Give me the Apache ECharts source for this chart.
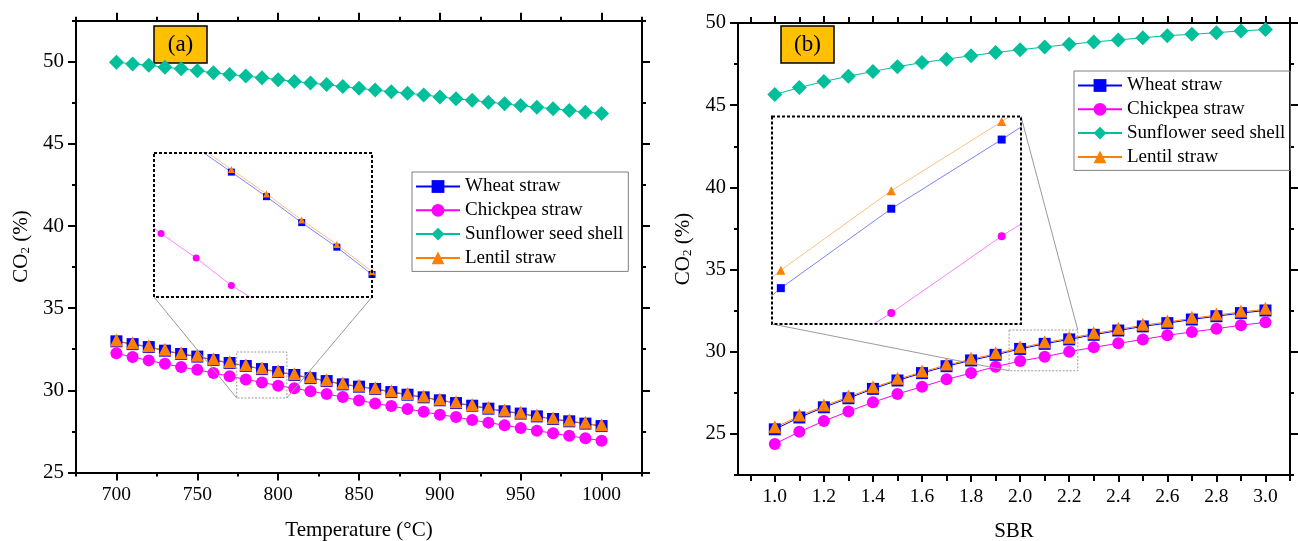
<!DOCTYPE html>
<html><head><meta charset="utf-8">
<script src="https://cdn.jsdelivr.net/npm/echarts@6/dist/echarts.min.js"></script>
<style>html,body{margin:0;padding:0;background:#fff}#c{width:1298px;height:541px}</style>
</head><body><div id="c"></div>
<script>
// ---------------- data ----------------
const seriesNames = ['Wheat straw', 'Chickpea straw', 'Sunflower seed shell', 'Lentil straw'];

// panel (a): CO2 vs temperature
const temperature = [700,710,720,730,740,750,760,770,780,790,800,810,820,830,840,850,860,870,880,890,900,910,920,930,940,950,960,970,980,990,1000];
const tWheat     = [32.98,32.81,32.63,32.41,32.21,32.05,31.84,31.66,31.48,31.29,31.11,30.93,30.74,30.56,30.36,30.22,30.08,29.89,29.73,29.57,29.39,29.22,29.06,28.88,28.72,28.58,28.41,28.25,28.11,27.97,27.82];
const tChickpea  = [32.25,32.02,31.82,31.61,31.41,31.25,31.05,30.85,30.66,30.48,30.28,30.12,29.94,29.77,29.59,29.38,29.20,29.04,28.86,28.69,28.51,28.37,28.19,28.03,27.87,27.70,27.54,27.38,27.23,27.08,26.93];
const tSunflower = [49.97,49.87,49.79,49.66,49.58,49.45,49.33,49.22,49.13,49.03,48.91,48.80,48.70,48.61,48.49,48.38,48.28,48.17,48.09,47.98,47.86,47.75,47.65,47.54,47.44,47.33,47.23,47.14,47.04,46.93,46.85];
const tLentil    = [33.00,32.83,32.65,32.43,32.23,32.07,31.86,31.68,31.50,31.31,31.13,30.95,30.76,30.58,30.38,30.24,30.10,29.91,29.75,29.59,29.41,29.24,29.08,28.90,28.74,28.60,28.43,28.27,28.13,27.99,27.84];

// panel (b): CO2 vs SBR
const sbr        = [1.0,1.1,1.2,1.3,1.4,1.5,1.6,1.7,1.8,1.9,2.0,2.1,2.2,2.3,2.4,2.5,2.6,2.7,2.8,2.9,3.0];
const sWheat     = [25.28,26.00,26.62,27.17,27.74,28.25,28.70,29.12,29.47,29.81,30.17,30.48,30.75,31.03,31.29,31.54,31.74,31.96,32.16,32.35,32.51];
const sChickpea  = [24.39,25.13,25.78,26.37,26.92,27.43,27.87,28.32,28.70,29.09,29.43,29.70,30.00,30.27,30.51,30.75,31.00,31.20,31.40,31.61,31.79];
const sSunflower = [45.65,46.07,46.44,46.76,47.05,47.34,47.59,47.80,48.01,48.20,48.37,48.54,48.70,48.85,48.97,49.10,49.23,49.31,49.41,49.52,49.60];
const sLentil    = [25.38,26.09,26.70,27.25,27.81,28.32,28.77,29.19,29.54,29.88,30.24,30.55,30.82,31.10,31.36,31.61,31.81,32.03,32.23,32.42,32.58];

// ticks
const tempTickLabels  = [700,750,800,850,900,950,1000];
const tempMinorTicks  = [675,725,775,825,875,925,975,1025];
const co2TickLabels   = [25,30,35,40,45,50];
const co2MinorTicksA  = [27.5,32.5,37.5,42.5,47.5,52.5];
const co2MinorTicksB  = [22.5,27.5,32.5,37.5,42.5,47.5];
const sbrTickLabels   = [1.0,1.2,1.4,1.6,1.8,2.0,2.2,2.4,2.6,2.8,3.0];
const sbrMinorTicks   = [0.9,1.1,1.3,1.5,1.7,1.9,2.1,2.3,2.5,2.7,2.9,3.1];

// zoomed regions (data coordinates) shown in the insets
const zoomA = {x: [774.4, 805.4], y: [29.53, 32.33]};
const zoomB = {x: [1.955, 2.235], y: [28.84, 31.32]};

// ---------------- layout / style ----------------
const FONT = 'Liberation Serif';
const COLORS = ['#0000FF', '#FF00FF', '#00BF9B', '#FF8000'];
const SYMBOLS = ['rect', 'circle', 'diamond', 'triangle'];
const SIZES = [12, 12, 15, 13];
const gridA = {left: 76, top: 20.7, width: 566, height: 451.7};
const gridB = {left: 738, top: 23, width: 552, height: 452};
const insetA = {left: 154, top: 153, width: 218, height: 144};
const insetB = {left: 772, top: 116.5, width: 249, height: 207.5};

const pairs = (xs, ys) => xs.map((x, i) => [x, ys[i]]);

function axis(gridIndex, position, min, max, tickValues, tickLen, showLine, label) {
  const a = {
    type: 'value', gridIndex, position, min, max,
    axisLine: {show: showLine, onZero: false, lineStyle: {color: '#000', width: 2}},
    axisTick: {show: true, customValues: tickValues, length: tickLen, lineStyle: {color: '#000', width: 2}},
    axisLabel: {show: false},
    splitLine: {show: false}
  };
  if (label) {
    a.axisLabel = Object.assign({show: true, color: '#000', fontFamily: FONT}, label);
  }
  return a;
}
function hiddenAxis(gridIndex, min, max) {
  return {type: 'value', gridIndex, min, max, show: false, splitLine: {show: false}};
}

const xAxes = [
  // panel a
  Object.assign(axis(0, 'bottom', 675, 1025, tempTickLabels, 8, true,
    {customValues: tempTickLabels, fontSize: 19.5, margin: 12, formatter: v => String(v)}),
    {name: 'Temperature (°C)', nameLocation: 'middle', nameGap: 48,
     nameTextStyle: {fontSize: 21, fontFamily: FONT, color: '#000'}}),
  axis(0, 'bottom', 675, 1025, tempMinorTicks, 4, false),
  axis(0, 'top', 675, 1025, tempTickLabels, 8, true),
  axis(0, 'top', 675, 1025, tempMinorTicks, 4, false),
  // panel b
  Object.assign(axis(1, 'bottom', 0.85, 3.1, sbrTickLabels, 7, true,
    {customValues: sbrTickLabels, fontSize: 19.5, margin: 12, formatter: v => Number(v).toFixed(1)}),
    {name: 'SBR', nameLocation: 'middle', nameGap: 46,
     nameTextStyle: {fontSize: 21, fontFamily: FONT, color: '#000'}}),
  axis(1, 'bottom', 0.85, 3.1, sbrMinorTicks, 6, false),
  axis(1, 'top', 0.85, 3.1, sbrTickLabels, 7, true),
  axis(1, 'top', 0.85, 3.1, sbrMinorTicks, 6, false),
  // insets
  hiddenAxis(2, 778, 840),
  hiddenAxis(3, 1.992, 2.2175)
];
const yName = {
  name: 'CO{s|2} (%)', nameLocation: 'middle', nameGap: 44,
  nameTextStyle: {fontSize: 21, fontFamily: FONT, color: '#000',
    rich: {s: {fontSize: 13, fontFamily: FONT, color: '#000', verticalAlign: 'bottom', padding: [9, 0, 0, 0]}}}
};
const yAxes = [
  Object.assign(axis(0, 'left', 25, 52.5, co2TickLabels, 8, true,
    {customValues: co2TickLabels, fontSize: 21, margin: 12}), yName),
  axis(0, 'left', 25, 52.5, co2MinorTicksA, 4, false),
  axis(0, 'right', 25, 52.5, co2TickLabels, 8, true),
  axis(0, 'right', 25, 52.5, co2MinorTicksA, 4, false),
  Object.assign(axis(1, 'left', 22.5, 50, co2TickLabels, 8, true,
    {customValues: co2TickLabels, fontSize: 20.5, margin: 12}), yName),
  axis(1, 'left', 22.5, 50, co2MinorTicksB, 4, false),
  axis(1, 'right', 22.5, 50, co2TickLabels, 8, true),
  axis(1, 'right', 22.5, 50, co2MinorTicksB, 4, false),
  hiddenAxis(2, 30.195, 31.25),
  hiddenAxis(3, 30.03, 30.84),
  hiddenAxis(3, 29.657, 30.467)
];

function mainSeries(k, xs, ys, xi, yi) {
  return {
    type: 'line', name: seriesNames[k], data: pairs(xs, ys),
    xAxisIndex: xi, yAxisIndex: yi, symbol: SYMBOLS[k], symbolSize: SIZES[k],
    symbolOffset: k === 3 ? [0, -1] : [0, 0],
    showSymbol: true, silent: true,
    itemStyle: {color: COLORS[k], borderWidth: 0},
    lineStyle: {color: COLORS[k], width: 1}
  };
}
function insetSeries(k, xs, ys, xi, yi, size) {
  return {
    type: 'line', name: seriesNames[k], data: pairs(xs, ys),
    xAxisIndex: xi, yAxisIndex: yi, symbol: SYMBOLS[k], symbolSize: size,
    showSymbol: true, silent: true, clip: true,
    itemStyle: {color: COLORS[k], borderWidth: 0},
    lineStyle: {color: COLORS[k], width: 1, opacity: 0.5}
  };
}

const series = [
  mainSeries(0, temperature, tWheat, 0, 0),
  mainSeries(1, temperature, tChickpea, 0, 0),
  mainSeries(2, temperature, tSunflower, 0, 0),
  mainSeries(3, temperature, tLentil, 0, 0),
  mainSeries(0, sbr, sWheat, 4, 4),
  mainSeries(1, sbr, sChickpea, 4, 4),
  mainSeries(2, sbr, sSunflower, 4, 4),
  mainSeries(3, sbr, sLentil, 4, 4),
  insetSeries(0, temperature, tWheat, 8, 8, 7),
  insetSeries(1, temperature, tChickpea, 8, 8, 7),
  insetSeries(3, temperature, tLentil, 8, 8, 7),
  insetSeries(0, sbr, sWheat, 9, 9, 8),
  insetSeries(1, sbr, sChickpea, 9, 10, 8),
  insetSeries(3, sbr, sLentil, 9, 9, 9)
];

function legend(left, top) {
  return {
    data: seriesNames, orient: 'vertical', left, top, selectedMode: false,
    itemWidth: 44, itemHeight: 16, itemGap: 4.8,
    padding: [5, 5, 4, 3], borderColor: '#7f7f7f', borderWidth: 1,
    textStyle: {fontSize: 19, fontFamily: FONT, color: '#000'}
  };
}

const gridBase = {containLabel: false, outerBoundsMode: 'none'};
const option = {
  animation: false,
  backgroundColor: '#fff',
  grid: [
    Object.assign({}, gridBase, gridA),
    Object.assign({}, gridBase, gridB),
    Object.assign({}, gridBase, {show: true, backgroundColor: '#fff', borderWidth: 0}, insetA),
    Object.assign({}, gridBase, {show: true, backgroundColor: '#fff', borderWidth: 0}, insetB)
  ],
  xAxis: xAxes,
  yAxis: yAxes,
  legend: [legend(412, 172), legend(1074, 71)],
  series
};

const chart = echarts.init(document.getElementById('c'), null, {renderer: 'canvas'});
chart.setOption(option);

// ---------------- inset frames, source boxes, connectors, panel tags ----------------
function px(xi, yi, x, y) { return chart.convertToPixel({xAxisIndex: xi, yAxisIndex: yi}, [x, y]); }
function zoomGraphics(xi, yi, zoom, inset, links) {
  const tl = px(xi, yi, zoom.x[0], zoom.y[1]);
  const br = px(xi, yi, zoom.x[1], zoom.y[0]);
  const src = {l: tl[0], t: tl[1], r: br[0], b: br[1]};
  const ins = {l: inset.left, t: inset.top, r: inset.left + inset.width, b: inset.top + inset.height};
  const corner = (o, c) => [c[1] === 'l' ? o.l : o.r, c[0] === 't' ? o.t : o.b];
  const els = [];
  links.forEach(([a, b]) => {
    const p1 = corner(ins, a), p2 = corner(src, b);
    els.push({type: 'line', z: 50, silent: true,
      shape: {x1: p1[0], y1: p1[1], x2: p2[0], y2: p2[1]},
      style: {stroke: '#9a9a9a', lineWidth: 1}});
  });
  els.push({type: 'rect', z: 50, silent: true,
    shape: {x: src.l, y: src.t, width: src.r - src.l, height: src.b - src.t},
    style: {fill: null, stroke: '#9a9a9a', lineWidth: 1, lineDash: [2, 1.5]}});
  els.push({type: 'rect', z: 60, silent: true,
    shape: {x: ins.l, y: ins.t, width: ins.r - ins.l, height: ins.b - ins.t},
    style: {fill: null, stroke: '#000', lineWidth: 2, lineDash: [3, 2]}});
  return els;
}
function tag(text, x, y) {
  return {type: 'group', z: 100, silent: true, children: [
    {type: 'rect', shape: {x: x, y: y, width: 53, height: 37},
     style: {fill: '#FFC000', stroke: '#000', lineWidth: 1.5}},
    {type: 'text', style: {text: text, x: x + 26.5, y: y + 18.5, align: 'center', verticalAlign: 'middle',
      fontSize: 23, fontFamily: FONT, fill: '#000'}}
  ]};
}
chart.setOption({
  graphic: [].concat(
    zoomGraphics(0, 0, zoomA, insetA, [['bl', 'bl'], ['br', 'br']]),
    zoomGraphics(4, 4, zoomB, insetB, [['bl', 'bl'], ['tr', 'tr']]),
    [tag('(a)', 154, 26), tag('(b)', 781, 26)]
  )
});
</script>
</body></html>
